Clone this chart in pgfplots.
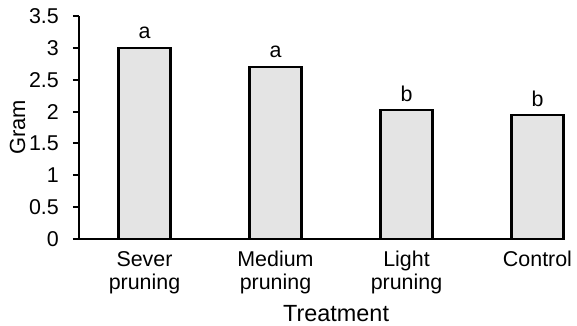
\documentclass[border=0pt]{standalone}
\usepackage{fontspec}
\setmainfont{Liberation Sans}
\usepackage{pgfplots}
\pgfplotsset{compat=1.18}
\definecolor{barfill}{HTML}{E4E4E4}
\newcommand{\lblfont}{\fontsize{21.5}{23}\selectfont}
\begin{document}
\begin{tikzpicture}
\begin{axis}[
  at={(0,0)}, anchor=south west,
  scale only axis, width=486bp, height=223bp,
  xmin=-0.5, xmax=3.21, ymin=0, ymax=3.5,
  axis x line*=bottom, axis y line*=left,
  axis line style={line width=2bp, -},
  ytick={0,0.5,1,1.5,2,2.5,3,3.5},
  yticklabels={0,0.5,1,1.5,2,2.5,3,3.5},
  xtick={0,1,2,3},
  xticklabels={Sever\\pruning, Medium\\pruning, Light\\pruning, Control},
  xticklabel style={align=center, anchor=north, font=\lblfont, inner sep=0pt, yshift=-12bp},
  major x tick style={draw=none},
  ytick align=outside, major tick length=6bp,
  tick style={line width=2bp, black},
  yticklabel style={font=\lblfont, anchor=east, inner sep=0pt, xshift=-14bp},
  ylabel={Gram}, xlabel={Treatment},
  ylabel style={font=\fontsize{22}{24}\selectfont, at={(axis description cs:-0.1111,0.5)}, anchor=base, rotate=0, inner sep=0pt},
  xlabel style={font=\fontsize{23.5}{25}\selectfont, at={(axis description cs:0.529,-0.3677)}, anchor=base, inner sep=0pt},
  /pgf/number format/assume math mode=true,
]
\addplot[ybar, bar width=52bp, fill=barfill, draw=black, line width=2.2bp,
  nodes near coords, point meta=explicit symbolic,
  nodes near coords style={font=\lblfont, anchor=base, inner sep=0pt, yshift=9bp}]
  table[meta=label] {
x y label
0 3.00 a
1 2.70 a
2 2.02 b
3 1.94 b
};
\end{axis}
\pgfresetboundingbox
\path (-79bp,-87bp) rectangle (498bp,239bp);
\end{tikzpicture}
\end{document}
